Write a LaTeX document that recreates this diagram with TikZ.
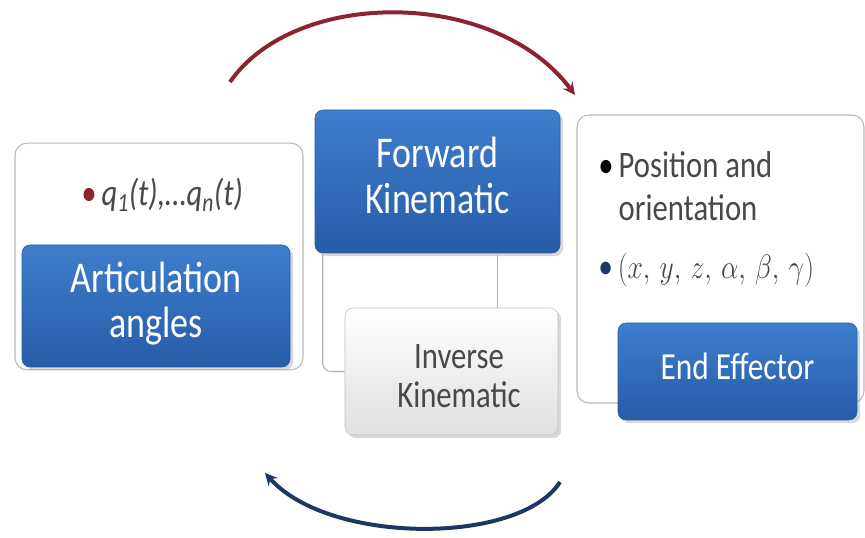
\documentclass[tikz,border=0pt]{standalone}
\usepackage{fontspec}
\setmainfont{Carlito}
\usetikzlibrary{arrows, shadows}
\definecolor{boxblue}{RGB}{62,126,205}
\definecolor{boxbluedark}{RGB}{38,92,168}
\definecolor{arcred}{RGB}{140,35,48}
\definecolor{arcnavy}{RGB}{28,55,100}
\definecolor{textgray}{RGB}{72,72,72}
\tikzstyle{panel} = [rectangle, 
rounded corners=9pt, 
inner sep=0pt, 
draw=gray!55, 
line width=0.8pt, 
fill=white]
\tikzstyle{bluebox} = [rectangle, 
rounded corners=6pt, 
inner sep=0pt, 
align=center, 
draw=boxbluedark, 
top color=boxblue, 
bottom color=boxbluedark, 
text=white, 
drop shadow={opacity=0.3}]
\tikzstyle{graybox} = [rectangle, 
rounded corners=6pt, 
inner sep=0pt, 
align=center, 
draw=gray!50, 
top color=white, 
bottom color=gray!25, 
text=textgray, 
drop shadow={opacity=0.3}]
\tikzstyle{link} = [gray!60, line width=0.8pt, rounded corners=6pt]
\tikzstyle{bigarc} = [line width=3pt, ->, >=stealth]
% taller letters, as in the slide
\newcommand{\tallc}[1]{\scalebox{1}[1.22]{\begin{tabular}{@{}c@{}}#1\end{tabular}}}
\newcommand{\talll}[1]{\scalebox{1}[1.22]{\begin{tabular}{@{}l@{}}#1\end{tabular}}}

\begin{document}
\begin{tikzpicture}[x=0.75pt, y=-0.75pt]
  \useasboundingbox (0,0) rectangle (865,538);

  % joint space
  \node (jointpanel) [panel, minimum width=216pt, minimum height=170pt] at (159,256.5) {};
  \node (qlist) [text=textgray, font=\fontsize{23}{26}\selectfont\itshape] at (162,197)
    {\tallc{\textcolor{arcred}{\textbullet}\,q\textsubscript{1}(t),\dots q\textsubscript{n}(t)}};
  \node (angles) [bluebox, minimum width=201pt, minimum height=91.5pt,
    font=\fontsize{27}{28}\selectfont] at (156,306) {\tallc{Articulation\\angles}};

  % kinematics
  \node (fwd) [bluebox, minimum width=183.75pt, minimum height=107.25pt,
    font=\fontsize{27}{28}\selectfont] at (437.5,181.5) {\tallc{Forward\\Kinematic}};
  \node (inv) [graybox, minimum width=159.75pt, minimum height=95.25pt] at (451.5,371.5) {};
  \node (invtext) [text=textgray, font=\fontsize{23}{24}\selectfont] at (459,380)
    {\tallc{Inverse\\Kinematic}};

  % operational space
  \node (toolpanel) [panel, minimum width=215.25pt, minimum height=216pt] at (720.5,259) {};
  \node (pose) [anchor=north west, inner sep=0pt, text=textgray,
    font=\fontsize{23}{27}\selectfont] at (598,146)
    {\talll{\textcolor{black}{\textbullet}\,Position and\\\hphantom{\textbullet\,}orientation}};
  \node (coords) [anchor=west, inner sep=0pt, font=\fontsize{22}{26}\selectfont] at (598,270)
    {\tallc{\textcolor{arcnavy}{\textbullet}\,\textcolor{textgray}{$(x,\, y,\, z,\, \alpha,\, \beta,\, \gamma)$}}};
  \node (effector) [bluebox, minimum width=179.25pt, minimum height=72.75pt,
    font=\fontsize{23.5}{26}\selectfont] at (737.5,371.5) {\tallc{End Effector}};

  \draw [link] ([xshift=6pt]fwd.south west) |- (inv.west);
  \draw [link] ([xshift=-47pt]fwd.south east) -- ([xshift=-47pt]fwd.south east |- inv.north);

  \draw [bigarc, arcred] (230,82) .. controls (295,-12) and (495,-12) .. (575,95);
  \draw [bigarc, arcnavy] (560,482) .. controls (520,545) and (330,545) .. (265,473);
\end{tikzpicture}
\end{document}
